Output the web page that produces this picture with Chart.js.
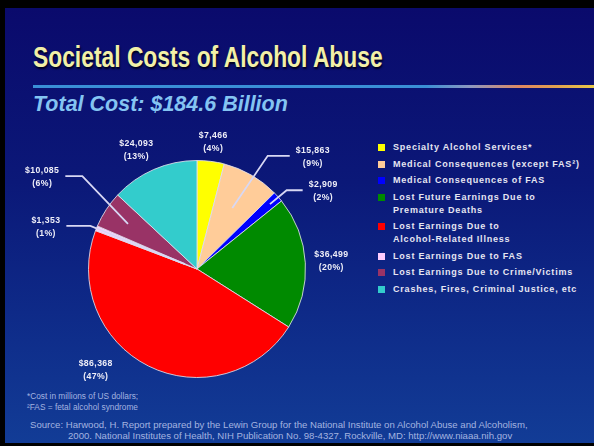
<!DOCTYPE html>
<html>
<head>
<meta charset="utf-8">
<script src="https://cdn.jsdelivr.net/npm/chart.js@4.4.0/dist/chart.umd.min.js"></script>
<style>
  html, body { margin: 0; padding: 0; width: 594px; height: 446px; overflow: hidden; background: #000; }
  #slide { position: absolute; left: 5px; top: 8px; right: 0; bottom: 3px;
    background: linear-gradient(180deg, #0a0a6c 0%, #0b1878 40%, #0e2a88 70%, #123c96 100%); }
  #title { position: absolute; left: 33px; top: 42px; margin: 0;
    font-family: "Liberation Sans", Arial, sans-serif;
    font-weight: bold; font-size: 30px; color: #f2f0a8; white-space: nowrap;
    text-shadow: 1px 2px 2px #000020; line-height: 1; transform-origin: 0 0; }
  #rule { position: absolute; left: 33px; right: 0; top: 85px; height: 3px;
    background: linear-gradient(90deg, #3a8fd6 0%, #3a8fd6 70%, #8f98c0 78%, #e08860 87%, #e0a050 93%, #e8c848 100%); }
  #subtitle { position: absolute; left: 33px; top: 94px; margin: 0;
    font-family: "Liberation Sans", Arial, sans-serif; font-style: italic; font-weight: bold;
    font-size: 21.5px; color: #84c4f2; white-space: nowrap; line-height: 1; }
  #legend { position: absolute; left: 378px; top: 141px; font-family: "Liberation Sans", Arial, sans-serif;
    font-weight: bold; font-size: 9px; letter-spacing: 0.8px; color: #e6e6f2; }
  .item { position: relative; padding-left: 15px; line-height: 13px; margin-bottom: 3.5px; white-space: nowrap; }
  .sw { position: absolute; left: 0; top: 3px; width: 7px; height: 7px; }
  #notes { position: absolute; left: 27px; top: 391px; font-family: "Liberation Sans", Arial, sans-serif;
    font-size: 8.3px; color: #a4b4e0; line-height: 10.5px; white-space: nowrap; }
  #source { position: absolute; left: 30px; top: 419px; font-family: "Liberation Sans", Arial, sans-serif;
    font-size: 9.6px; color: #a4b4e0; line-height: 11px; white-space: nowrap; }
  #source span { padding-left: 38px; }
  #c { position: absolute; left: 0; top: 0; }
</style>
</head>
<body>
<div id="slide"></div>
<div id="title">Societal Costs of Alcohol Abuse</div>
<div id="rule"></div>
<div id="subtitle">Total Cost: $184.6 Billion</div>
<div id="legend"></div>
<div id="notes">*Cost in millions of US dollars;<br>²FAS = fetal alcohol syndrome</div>
<div id="source">Source: Harwood, H. Report prepared by the Lewin Group for the National Institute on Alcohol Abuse and Alcoholism,<br><span>2000. National Institutes of Health, NIH Publication No. 98-4327. Rockville, MD: http://www.niaaa.nih.gov</span></div>
<canvas id="c" width="594" height="446"></canvas>
<script>
// ---- data ----
const categories = [
  "Specialty Alcohol Services*",
  "Medical Consequences (except FAS²)",
  "Medical Consequences of FAS",
  "Lost Future Earnings Due to\nPremature Deaths",
  "Lost Earnings Due to\nAlcohol-Related Illness",
  "Lost Earnings Due to FAS",
  "Lost Earnings Due to Crime/Victims",
  "Crashes, Fires, Criminal Justice, etc"
];
const costs = [7466, 15863, 2909, 36499, 86368, 1353, 10085, 24093]; // millions of US dollars
const percents = [4, 9, 2, 20, 47, 1, 6, 13];
const colors = ["#ffff00", "#ffcc99", "#0000ff", "#008a00", "#ff0000", "#ffccff", "#993366", "#33cccc"];

// label layout (angles clockwise from top in degrees, distances in radius units)
const labelLayout = [
  { type: "direct", dist: 1.18 },
  { type: "callout", from: 0.65, elbowAngle: 32, elbowDist: 1.23, run: 22 },
  { type: "callout", from: 0.9, elbowAngle: 48.7, elbowDist: 1.1, run: 16 },
  { type: "direct", dist: 1.24 },
  { type: "direct", angle: 225, dist: 1.32 },
  { type: "callout", from: 0.12, elbowAngle: 292, elbowDist: 1.06, run: -24 },
  { type: "callout", from: 0.76, elbowAngle: 309, elbowDist: 1.36, run: -17 },
  { type: "direct", angle: 333, dist: 1.23 }
];

// ---- title fit (narrow title face) ----
const titleEl = document.getElementById("title");
titleEl.style.transform = "scaleX(" + (350 / titleEl.offsetWidth).toFixed(4) + ")";

// ---- legend (HTML) ----
const leg = document.getElementById("legend");
categories.forEach((c, i) => {
  const d = document.createElement("div");
  d.className = "item";
  d.innerHTML = '<span class="sw" style="background:' + colors[i] + '"></span>' + c.replace("\n", "<br>");
  leg.appendChild(d);
});

const fmt = v => "$" + v.toLocaleString("en-US");

const labelPlugin = {
  id: "labels",
  afterDatasetsDraw(chart) {
    const ctx = chart.ctx;
    const arcs = chart.getDatasetMeta(0).data;
    ctx.save();
    ctx.font = 'bold 8.7px "Liberation Sans", Arial, sans-serif';
    if ("letterSpacing" in ctx) ctx.letterSpacing = "0.4px";
    ctx.textBaseline = "middle";
    arcs.forEach((arc, i) => {
      const { x: cx, y: cy, startAngle, endAngle, outerRadius: r } = arc.getProps(["x", "y", "startAngle", "endAngle", "outerRadius"], true);
      const mid = (startAngle + endAngle) / 2;
      const L = labelLayout[i];
      const lines = [fmt(costs[i]), "(" + percents[i] + "%)"];
      const w = Math.max(...lines.map(t => ctx.measureText(t).width));
      let tx, ty;
      if (L.type === "direct") {
        const a = L.angle !== undefined ? (L.angle - 90) * Math.PI / 180 : mid;
        tx = cx + Math.cos(a) * r * L.dist;
        ty = cy + Math.sin(a) * r * L.dist;
      } else {
        const p0x = cx + Math.cos(mid) * r * L.from, p0y = cy + Math.sin(mid) * r * L.from;
        const ea = (L.elbowAngle - 90) * Math.PI / 180;
        const ex = cx + Math.cos(ea) * r * L.elbowDist, ey = cy + Math.sin(ea) * r * L.elbowDist;
        const endx = ex + L.run;
        ctx.strokeStyle = "#d8d8f4";
        ctx.lineWidth = 1.8;
        ctx.beginPath();
        ctx.moveTo(p0x, p0y);
        ctx.lineTo(ex, ey);
        ctx.lineTo(endx, ey);
        ctx.stroke();
        tx = L.run > 0 ? endx + 6 + w / 2 : endx - 6 - w / 2;
        ty = ey + 1;
      }
      ctx.fillStyle = "#eeeef8";
      ctx.textAlign = "center";
      ctx.fillText(lines[0], tx, ty - 6.5);
      ctx.fillText(lines[1], tx, ty + 6.5);
    });
    ctx.restore();
  }
};

new Chart(document.getElementById("c"), {
  type: "pie",
  data: {
    labels: categories,
    datasets: [{ data: costs, backgroundColor: colors, borderColor: "rgba(225,225,235,0.85)", borderWidth: 1 }]
  },
  options: {
    responsive: false,
    animation: false,
    layout: { padding: { left: 88, right: 288, top: 160, bottom: 68 } },
    plugins: { legend: { display: false }, tooltip: { enabled: false } }
  },
  plugins: [labelPlugin]
});
</script>
</body>
</html>
